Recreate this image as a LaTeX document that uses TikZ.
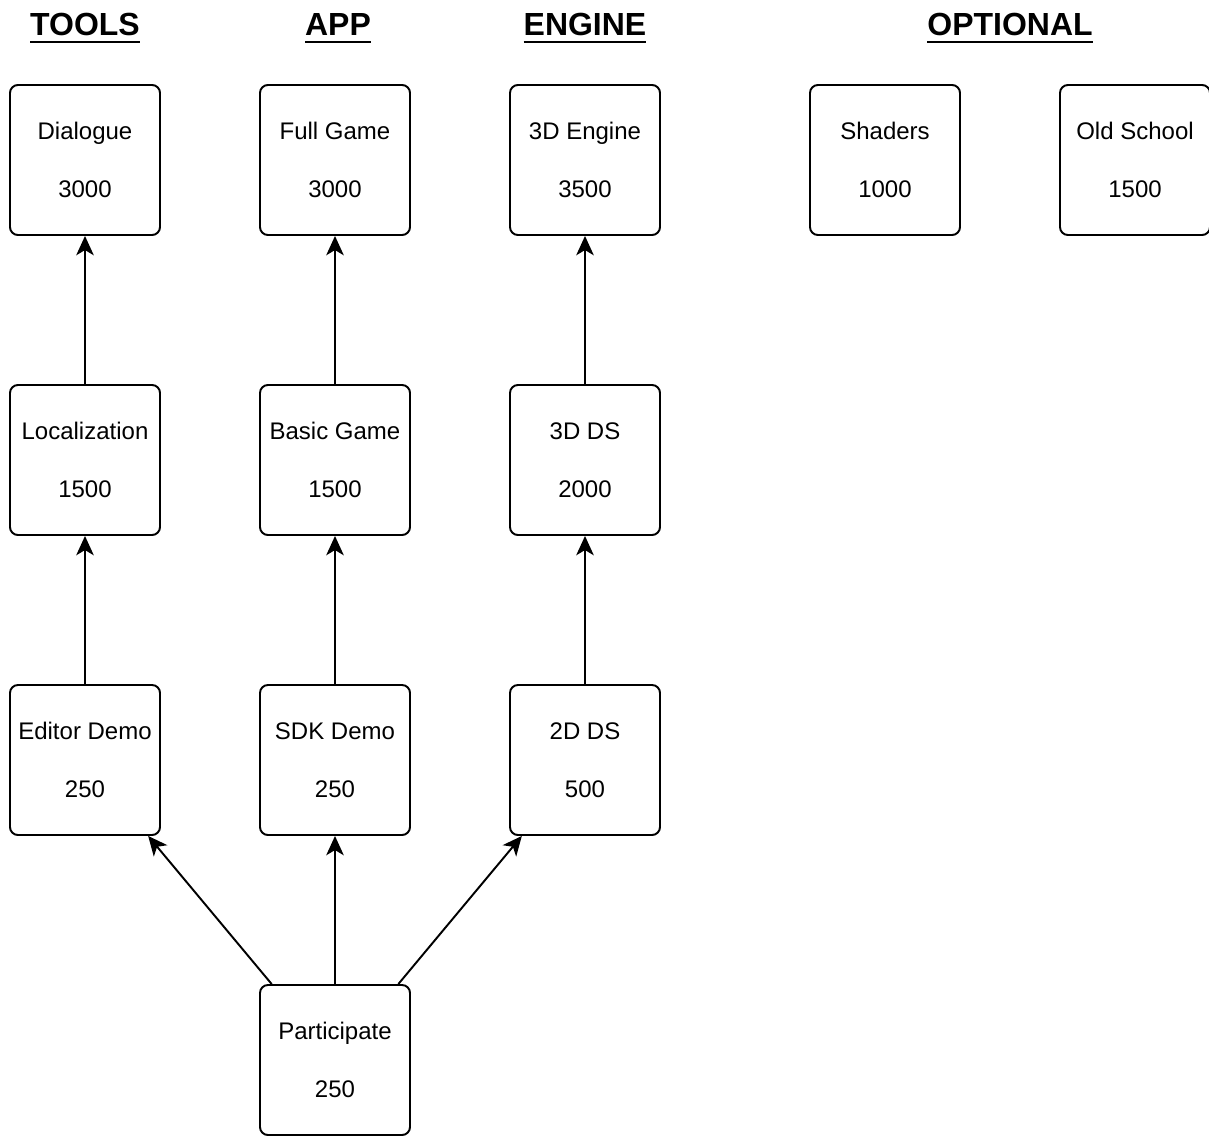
\documentclass[tikz,border=0pt]{standalone}
\usepackage{fontspec}
\setmainfont{Liberation Sans}
\usetikzlibrary{arrows.meta}

% bold heading with a thick underline
\newcommand{\hdrline}[1]{\setbox0\hbox{#1}\rlap{\rule[-4pt]{\wd0}{1.1pt}}\box0}

\tikzset{
  goal/.style={draw, line width=1.1pt, rounded corners=4.5pt, minimum width=3cm, minimum height=3cm,
    inner sep=0pt, align=center, font=\fontsize{13.66}{16.4}\selectfont},
  track/.style={anchor=base, inner sep=0pt, font=\bfseries\fontsize{18.2}{21}\selectfont},
  up/.style={-{Stealth[length=11pt,width=10pt,inset=3pt]}, line width=1.1pt}
}

\begin{document}
\begin{tikzpicture}
    \useasboundingbox (0,0) rectangle (24.18,-22.72);

    \node[track] (tools) at (1.7,-0.72) {\hdrline{TOOLS}};
    \node[track] (app) at (6.76,-0.72) {\hdrline{APP}};
    \node[track] (engine) at (11.7,-0.72) {\hdrline{ENGINE}};
    \node[track] (optional) at (20.2,-0.72) {\hdrline{OPTIONAL}};

    \node[goal] (dialogue) at (1.7,-3.2) {Dialogue\\[16.4pt]3000};
    \node[goal] (fullgame) at (6.7,-3.2) {Full Game\\[16.4pt]3000};
    \node[goal] (engine3d) at (11.7,-3.2) {3D Engine\\[16.4pt]3500};
    \node[goal] (shaders) at (17.7,-3.2) {Shaders\\[16.4pt]1000};
    \node[goal] (oldschool) at (22.7,-3.2) {Old School\\[16.4pt]1500};

    \node[goal] (localization) at (1.7,-9.2) {Localization\\[16.4pt]1500};
    \node[goal] (basicgame) at (6.7,-9.2) {Basic Game\\[16.4pt]1500};
    \node[goal] (ds3d) at (11.7,-9.2) {3D DS\\[16.4pt]2000};

    \node[goal] (editordemo) at (1.7,-15.2) {Editor Demo\\[16.4pt]250};
    \node[goal] (sdkdemo) at (6.7,-15.2) {SDK Demo\\[16.4pt]250};
    \node[goal] (ds2d) at (11.7,-15.2) {2D DS\\[16.4pt]500};

    \node[goal] (participate) at (6.7,-21.2) {Participate\\[16.4pt]250};

    \draw[up] (participate) -- (editordemo);
    \draw[up] (participate) -- (sdkdemo);
    \draw[up] (participate) -- (ds2d);

    \draw[up] (editordemo) -- (localization);
    \draw[up] (sdkdemo) -- (basicgame);
    \draw[up] (ds2d) -- (ds3d);

    \draw[up] (localization) -- (dialogue);
    \draw[up] (basicgame) -- (fullgame);
    \draw[up] (ds3d) -- (engine3d);
\end{tikzpicture}
\end{document}
